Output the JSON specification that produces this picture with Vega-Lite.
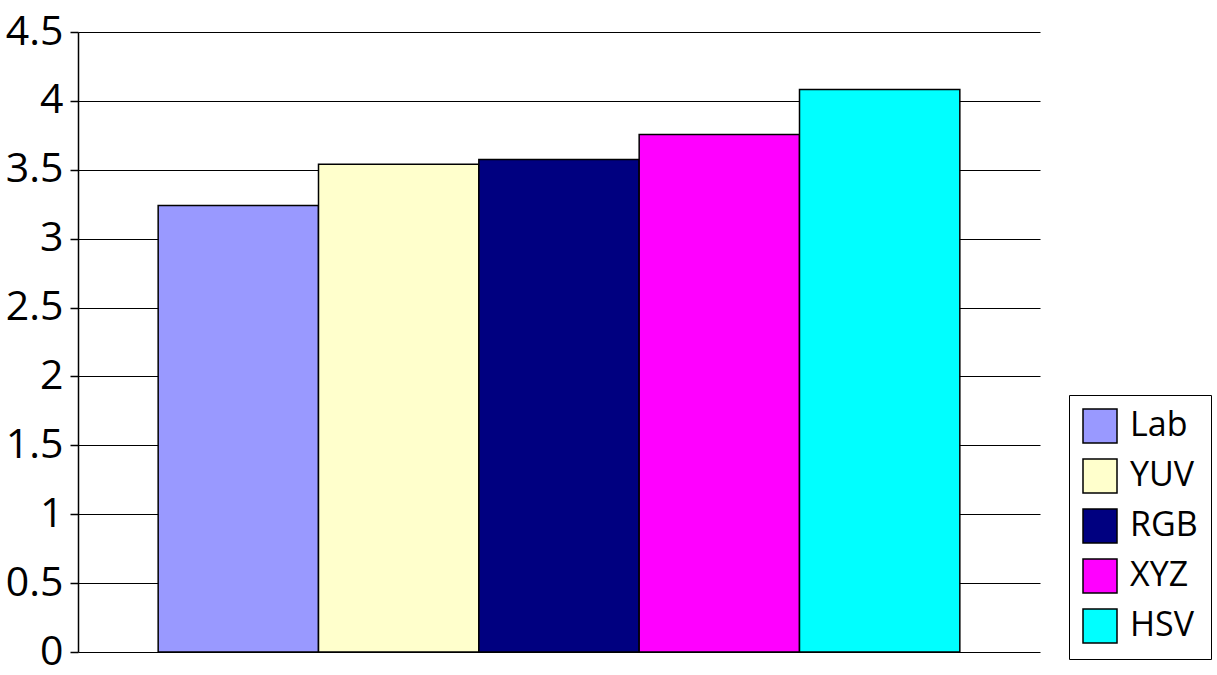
{
  "$schema": "https://vega.github.io/schema/vega-lite/v6.json",
  "width": 962,
  "height": 620,
  "autosize": {"type": "none"},
  "padding": {"left": 78, "top": 32, "right": 177, "bottom": 23},
  "background": "white",
  "config": {"view": {"stroke": null}, "font": "Open Sans"},
  "data": {
    "values": [
      {"space": "Lab", "value": 3.24},
      {"space": "YUV", "value": 3.54},
      {"space": "RGB", "value": 3.575},
      {"space": "XYZ", "value": 3.756},
      {"space": "HSV", "value": 4.083}
    ]
  },
  "mark": {"type": "bar", "stroke": "black", "strokeWidth": 1.5, "opacity": 1},
  "encoding": {
    "x": {
      "field": "space",
      "type": "nominal",
      "sort": ["Lab", "YUV", "RGB", "XYZ", "HSV"],
      "scale": {"paddingInner": 0, "paddingOuter": 0.5},
      "axis": null
    },
    "y": {
      "field": "value",
      "type": "quantitative",
      "scale": {"domain": [0, 4.5], "nice": false},
      "axis": {
        "title": null,
        "values": [0, 0.5, 1, 1.5, 2, 2.5, 3, 3.5, 4, 4.5],
        "format": ".1~f",
        "labelFont": "Open Sans",
        "labelFontSize": 41,
        "labelColor": "black",
        "labelPadding": 7,
        "labelBaseline": "middle",
        "labelFlush": false,
        "labelOverlap": false,
        "domain": true,
        "domainColor": "black",
        "domainWidth": 1.5,
        "ticks": true,
        "tickColor": "black",
        "tickSize": 8,
        "tickWidth": 1.5,
        "grid": true,
        "gridColor": "black",
        "gridWidth": 1.2,
        "gridOpacity": 1
      }
    },
    "fill": {
      "field": "space",
      "type": "nominal",
      "sort": ["Lab", "YUV", "RGB", "XYZ", "HSV"],
      "scale": {
        "domain": ["Lab", "YUV", "RGB", "XYZ", "HSV"],
        "range": ["#9999FF", "#FFFFCC", "#000080", "#FF00FF", "#00FFFF"]
      },
      "legend": {
        "title": null,
        "orient": "none",
        "legendX": 991,
        "legendY": 363,
        "direction": "vertical",
        "strokeColor": "black",
        "fillColor": "white",
        "padding": 13,
        "symbolType": "square",
        "symbolSize": 1156,
        "symbolStrokeColor": "black",
        "symbolStrokeWidth": 1.5,
        "symbolOpacity": 1,
        "labelFont": "Open Sans",
        "labelFontSize": 34,
        "labelColor": "black",
        "labelOffset": 12,
        "rowPadding": 10,
        "labelLimit": 200
      }
    }
  }
}
